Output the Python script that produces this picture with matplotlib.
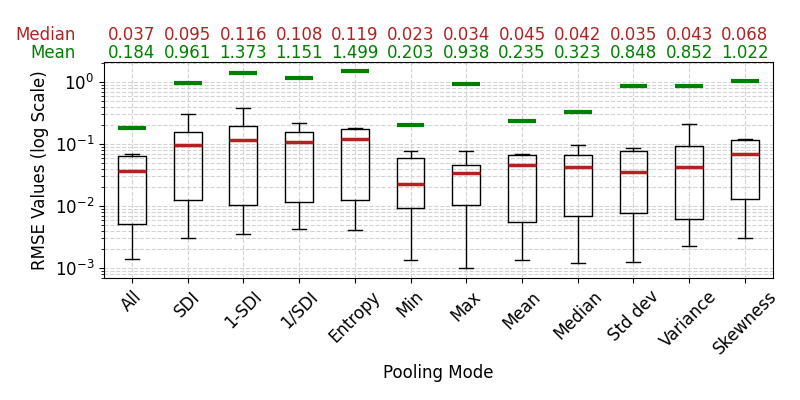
import matplotlib
matplotlib.use("Agg")
import matplotlib.pyplot as plt
from matplotlib.ticker import LogLocator, NullFormatter

modes = ["All", "SDI", "1-SDI", "1/SDI", "Entropy", "Min", "Max", "Mean",
         "Median", "Std dev", "Variance", "Skewness"]
medians = [0.037, 0.095, 0.116, 0.108, 0.119, 0.023, 0.034, 0.045, 0.042, 0.035, 0.043, 0.068]
means = [0.184, 0.961, 1.373, 1.151, 1.499, 0.203, 0.938, 0.235, 0.323, 0.848, 0.852, 1.022]
q1 = [0.0051, 0.0123, 0.0103, 0.0116, 0.0123, 0.0092, 0.0103, 0.0055, 0.0068, 0.0076, 0.0061, 0.0128]
q3 = [0.064, 0.154, 0.195, 0.154, 0.172, 0.059, 0.045, 0.0665, 0.0665, 0.076, 0.092, 0.115]
wlo = [0.0014, 0.00305, 0.0035, 0.0042, 0.0041, 0.00135, 0.0010, 0.00135, 0.00119, 0.00123, 0.00223, 0.00305]
whi = [0.068, 0.31, 0.38, 0.215, 0.181, 0.076, 0.076, 0.068, 0.096, 0.085, 0.207, 0.119]

stats = []
for i, m in enumerate(modes):
    stats.append(dict(label=m, med=medians[i], q1=q1[i], q3=q3[i],
                      whislo=wlo[i], whishi=whi[i], mean=means[i], fliers=[]))

fig = plt.figure(figsize=(8, 4), dpi=100)
ax = fig.add_axes([0.13, 0.305, 0.836, 0.54])

ax.bxp(stats, showmeans=True, meanline=True, showfliers=False,
       medianprops=dict(color="firebrick", linewidth=2.5),
       meanprops=dict(color="green", linewidth=3, linestyle="-"),
       boxprops=dict(color="black"), whiskerprops=dict(color="black"),
       capprops=dict(color="black"))

ax.set_yscale("log")
ax.set_ylim(6.9e-4, 2.1)
ax.set_xlim(0.5, len(modes) + 0.5)
ax.yaxis.set_minor_locator(LogLocator(base=10, subs=range(2, 10), numticks=20))
ax.yaxis.set_minor_formatter(NullFormatter())
ax.grid(True, which="major", linestyle="--", color="lightgray", linewidth=0.8)
ax.grid(True, which="minor", axis="y", linestyle="--", color="lightgray", linewidth=0.8)
ax.set_axisbelow(True)

ax.set_xticks(range(1, len(modes) + 1))
ax.set_xticklabels(modes, rotation=45, fontsize=12)
ax.tick_params(axis="y", labelsize=12)
ax.set_xlabel("Pooling Mode", fontsize=12)
ax.set_ylabel("RMSE Values (log Scale)", fontsize=12)

trans = ax.get_xaxis_transform()
for i in range(len(modes)):
    ax.text(i + 1, 1.125, f"{medians[i]:.3f}", transform=trans, ha="center",
            va="center", color="firebrick", fontsize=12)
    ax.text(i + 1, 1.04, f"{means[i]:.3f}", transform=trans, ha="center",
            va="center", color="green", fontsize=12)
fig.text(76 / 800, 1 - 35 / 400, "Median", ha="right", va="center", color="firebrick", fontsize=12)
fig.text(76 / 800, 1 - 53 / 400, "Mean", ha="right", va="center", color="green", fontsize=12)

fig.savefig("out.png", dpi=100)
